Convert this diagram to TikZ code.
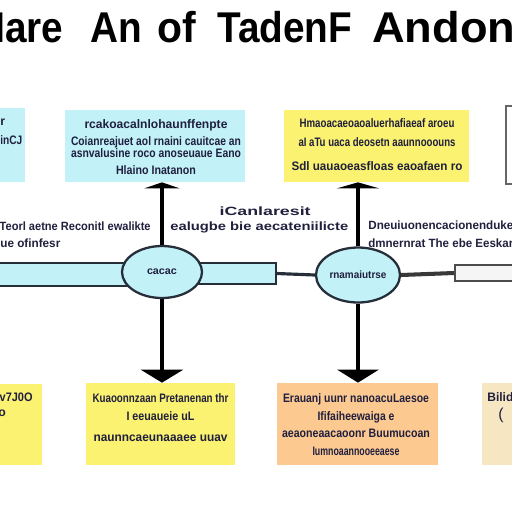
\documentclass[tikz,border=0pt]{standalone}
\usepackage{fontspec}
\setmainfont{Liberation Sans}
\usepackage{graphicx}
\usetikzlibrary{arrows.meta, shapes.geometric}

\definecolor{boxcyan}{RGB}{194,241,248}
\definecolor{boxyellow}{RGB}{250,242,112}
\definecolor{boxorange}{RGB}{252,201,145}
\definecolor{boxbeige}{RGB}{246,231,194}
\definecolor{inkblue}{RGB}{32,32,62}
\definecolor{bandline}{RGB}{38,46,58}

\newcommand{\squeeze}[2]{\resizebox{#1}{\height}{#2}}

\begin{document}
\begin{tikzpicture}[x = 0.02cm, y = -0.02cm,
		panel/.style = {inner sep = 0pt, draw = none},
		txt/.style = {inner sep = 0pt, align = center, text = inkblue},
		headword/.style = {anchor = base west, inner sep = 0pt, font = \fontsize{24.5}{24.5}\selectfont\bfseries},
		band/.style = {panel, fill = boxcyan, draw = bandline, line width = 1pt},
		hub/.style = {ellipse, inner sep = 0pt, fill = boxcyan, draw = bandline, line width = 1.3pt},
		stem/.style = {line width = 2.3pt, black},
		link/.style = {line width = 1.8pt, bandline}]
						\useasboundingbox (0,0) rectangle (512,512);
						\clip (0,0) rectangle (512,512);

						\begin{scope}
							\node [headword] (headhare) at (-23,42) {\scalebox{0.9}[1]{Hare}};
							\node [headword] (headan) at (90,42) {\scalebox{0.9}[1]{An}};
							\node [headword] (headof) at (157,42) {\scalebox{0.95}[1]{of}};
							\node [headword] (headtaden) at (217,42) {\scalebox{0.9}[1]{TadenF}};
							\node [headword] (headandon) at (372,42) {\scalebox{1.05}[1]{Andon}};
						\end{scope}

						\begin{scope}
							\node [panel, fill = boxcyan, minimum width = 1.1cm, minimum height = 1.48cm] (topleft) at (-2.5,145) {};
							\node [panel, fill = boxcyan, minimum width = 3.6cm, minimum height = 1.44cm] (topcyan) at (155,146) {};
							\node [panel, fill = boxyellow, minimum width = 3.7cm, minimum height = 1.44cm] (topyellow) at (376.5,146) {};
							\node [panel, fill = white, draw = gray!80!black, line width = 1pt, minimum width = 1.2cm, minimum height = 1.56cm] (topright) at (536,145) {};
							\node [panel, fill = boxyellow, minimum width = 1.24cm, minimum height = 1.62cm] (botleft) at (11,424.5) {};
							\node [panel, fill = boxyellow, minimum width = 2.98cm, minimum height = 1.64cm] (botyellow) at (160.5,424) {};
							\node [panel, fill = boxorange, minimum width = 3.22cm, minimum height = 1.64cm] (botorange) at (357.5,424) {};
							\node [panel, fill = boxbeige, minimum width = 1.16cm, minimum height = 1.64cm] (botbeige) at (511,424) {};
						\end{scope}

						\begin{scope}[font = \fontsize{7}{6.8}\selectfont\bfseries]
							\node [txt, anchor = west] (topleftfirst) at (0,122) {r};
							\node [txt, anchor = west] (topleftsecond) at (0,140) {\squeeze{0.44cm}{inCJ}};
							\node [txt] (topcyantext) at (156,147) {\squeeze{2.86cm}{rcakoacalnlohaunffenpte}\\[2.9pt]
								\squeeze{3.4cm}{Coianreajuet aol rnaini cauitcae an}\\
								\squeeze{3.4cm}{asnvalusine roco anoseuaue Eano}\\[2.9pt]
								\squeeze{1.6cm}{Hlaino Inatanon}};
							\node [txt, font = \fontsize{7}{10.8}\selectfont\bfseries] (topyellowtext) at (377,144.5) {\squeeze{3.1cm}{Hmaoacaeoaoaluerhafiaeaf aroeu}\\
								\squeeze{3.14cm}{aI aTu uaca deosetn aaunnooouns}\\[2.9pt]
								\squeeze{3.42cm}{Sdl uauaoeasfloas eaoafaen ro}};
							\node [txt, anchor = east] (botleftfirst) at (33,397) {\squeeze{0.66cm}{v7J0O}};
							\node [txt, anchor = west] (botleftsecond) at (-2,413) {o};
							\node [txt, font = \fontsize{7}{10.2}\selectfont\bfseries] (botyellowtext) at (160.5,417.5) {\squeeze{2.72cm}{Kuaoonnzaan Pretanenan thr}\\
								\squeeze{1.36cm}{I eeuaueie uL}\\[1.8pt]
								\squeeze{2.68cm}{naunncaeunaaaee uuav}};
							\node [txt, font = \fontsize{7}{10}\selectfont\bfseries] (botorangetext) at (356,424.5) {\squeeze{2.92cm}{Erauanj uunr nanoacuLaesoe}\\
								\squeeze{1.54cm}{Ififaiheewaiga e}\\
								\squeeze{2.96cm}{aeaoneaacaoonr Buumucoan}\\
								\squeeze{1.74cm}{Iumnoaannooeeaese}};
							\node [txt, anchor = west] (botbeigefirst) at (487,397) {\squeeze{0.52cm}{Bilid}};
							\node [txt, anchor = west, font = \fontsize{9}{9}\selectfont] (botbeigesecond) at (498,415) {(};
						\end{scope}

						\begin{scope}
							\node [band, minimum width = 2.7cm, minimum height = 0.46cm] (leftband) at (61,274.5) {};
							\node [band, minimum width = 1.56cm, minimum height = 0.42cm] (midband) at (237,273.5) {};
							\node [panel, fill = gray!8, draw = gray!60!black, line width = 1.2pt, minimum width = 1.5cm, minimum height = 0.32cm] (rightbar) at (492.5,273) {};
							\node [hub, minimum width = 1.6cm, minimum height = 1.04cm, font = \fontsize{6}{6}\selectfont\bfseries, text = inkblue] (hubleft) at (162,272) {\squeeze{0.6cm}{cacac}};
							\node [hub, minimum width = 1.68cm, minimum height = 1.1cm, font = \fontsize{6}{6}\selectfont\bfseries, text = inkblue] (hubright) at (358,275) {\squeeze{1.14cm}{rnamaiutrse}};
						\end{scope}

						\begin{scope}
							\draw [link] (midband.east) -- (hubright.west);
							\draw [link, gray!45!black, line width = 2.3pt] (hubright.east) -- (rightbar.west);
							\draw [stem, -{Triangle[width = 0.7cm, length = 0.12cm]}] (hubleft.north) -- (hubleft.north |- topcyan.south);
							\draw [stem, -{Triangle[width = 0.84cm, length = 0.26cm]}] (hubleft.south) -- (hubleft.south |- botyellow.north);
							\draw [stem, -{Triangle[width = 0.84cm, length = 0.12cm]}] (hubright.north) -- (hubright.north |- topyellow.south);
							\draw [stem, -{Triangle[width = 0.82cm, length = 0.26cm]}] (hubright.south) -- (hubright.south |- botorange.north);
						\end{scope}

						\begin{scope}[font = \fontsize{6.8}{6.8}\selectfont\bfseries]
							\node [txt, anchor = east] (notelefta) at (151,226) {\squeeze{3.02cm}{Teorl aetne Reconitl ewalikte}};
							\node [txt, anchor = west] (noteleftb) at (0,243) {\squeeze{1.2cm}{ue ofinfesr}};
							\node [txt, anchor = east] (notemida) at (311,211) {\squeeze{1.82cm}{iCanlaresit}};
							\node [txt, anchor = west] (notemidb) at (170,227) {\squeeze{3.56cm}{ealugbe bie aecateniilicte}};
							\node [txt, anchor = west] (noterighta) at (368,225) {\squeeze{2.9cm}{Dneuiuonencacionenduke}};
							\node [txt, anchor = west] (noterightb) at (368,243) {\squeeze{2.9cm}{dmnernrat The ebe Eeskar}};
						\end{scope}
					\end{tikzpicture}
\end{document}
